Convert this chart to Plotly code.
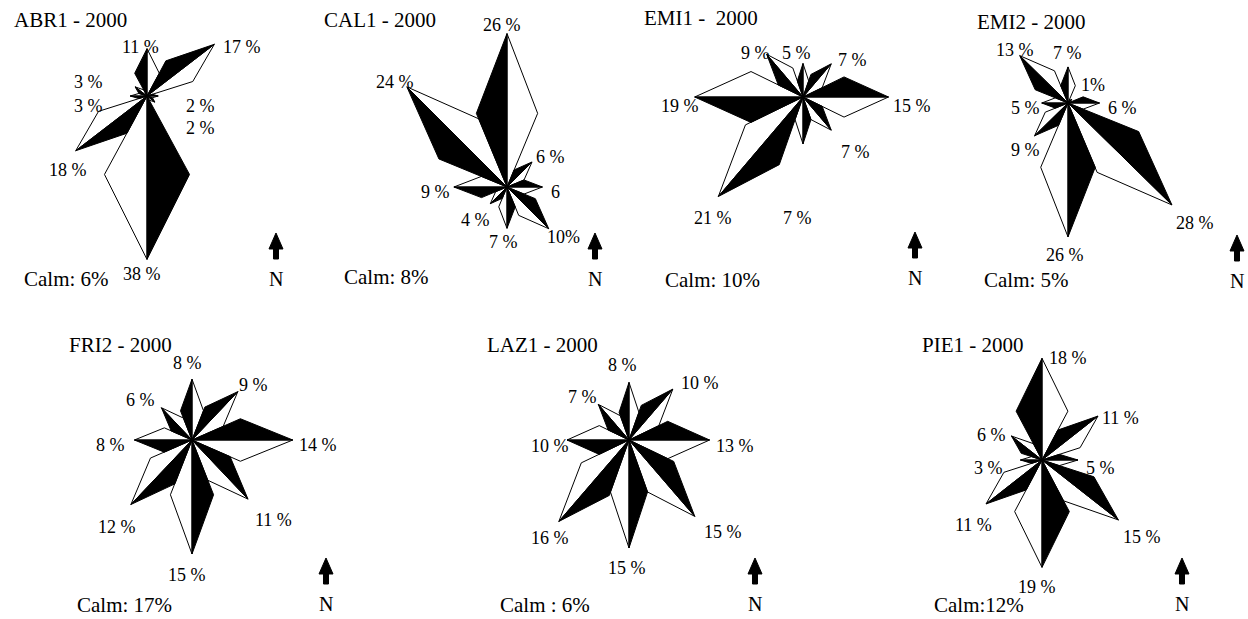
import math
import plotly.graph_objects as go

W, H = 1248, 619

# ---------------- data ----------------
directions = [0, 45, 90, 135, 180, 225, 270, 315]  # N, NE, E, SE, S, SW, W, NW
stations = ["ABR1 - 2000", "CAL1 - 2000", "EMI1 -  2000", "EMI2 - 2000",
            "FRI2 - 2000", "LAZ1 - 2000", "PIE1 - 2000"]
abr1 = [11, 17, 2, 2, 38, 18, 3, 3]
cal1 = [26, 6, 6, 10, 7, 4, 9, 24]
emi1 = [5, 7, 15, 7, 7, 21, 19, 9]
emi2 = [7, 1, 6, 28, 26, 9, 5, 13]
fri2 = [8, 9, 14, 11, 15, 12, 8, 6]
laz1 = [8, 10, 13, 15, 15, 16, 10, 7]
pie1 = [18, 11, 5, 15, 19, 11, 3, 6]
values = [abr1, cal1, emi1, emi2, fri2, laz1, pie1]
calm_labels = ["Calm: 6%", "Calm: 8%", "Calm: 10%", "Calm: 5%",
               "Calm: 17%", "Calm : 6%", "Calm:12%"]
pct_labels = [
    ["11 %", "17 %", "2 %", "2 %", "38 %", "18 %", "3 %", "3 %"],
    ["26 %", "6 %", "6", "10%", "7 %", "4 %", "9 %", "24 %"],
    ["5 %", "7 %", "15 %", "7 %", "7 %", "21 %", "19 %", "9 %"],
    ["7 %", "1%", "6 %", "28 %", "26 %", "9 %", "5 %", "13 %"],
    ["8 %", "9 %", "14 %", "11 %", "15 %", "12 %", "8 %", "6 %"],
    ["8 %", "10 %", "13 %", "15 %", "15 %", "16 %", "10 %", "7 %"],
    ["18 %", "11 %", "5 %", "15 %", "19 %", "11 %", "3 %", "6 %"],
]

# ---------------- layout (pixel positions / scales) ----------------
centres = [(147, 96), (507, 187), (803, 97), (1068, 103),
           (192, 440), (629, 440), (1042, 460)]
scales = [(5.6, 4.3), (5.9, 5.9), (5.7, 6.7), (5.25, 5.15),
          (7.2, 7.6), (6.2, 7.2), (7.2, 5.65)]
title_pos = [(12, 20), (322, 20), (642, 18), (975, 22),
             (67, 345), (485, 345), (920, 345)]
calm_pos = [(22, 279), (342, 277), (663, 280), (982, 280),
            (75, 605), (498, 605), (932, 605)]
north_pos = [(276, 233), (595, 233), (915, 232), (1237, 235),
             (326, 558), (755, 558), (1182, 558)]
label_pos = [
    [(140, 47), (242, 47), (200, 106), (200, 128), (142, 274), (68, 170), (88, 106), (88, 82)],
    [(502, 25), (550, 157), (555, 192), (563, 237), (503, 242), (475, 220), (435, 192), (395, 82)],
    [(797, 53), (852, 60), (912, 106), (855, 152), (798, 218), (713, 218), (680, 106), (755, 53)],
    [(1067, 53), (1093, 85), (1122, 108), (1195, 223), (1065, 255), (1025, 150), (1025, 108), (1015, 50)],
    [(187, 363), (253, 385), (318, 445), (273, 520), (187, 575), (117, 527), (110, 445), (140, 400)],
    [(622, 365), (700, 383), (735, 446), (723, 532), (627, 568), (550, 538), (550, 446), (582, 397)],
    [(1068, 358), (1120, 418), (1100, 468), (1142, 537), (1037, 587), (973, 525), (988, 468), (992, 435)],
]

SIDE_R = 0.52     # radius of kite side vertex (fraction of spike length)
SIDE_A = 22.6     # angular offset of kite side vertex (deg)
FONT = "Liberation Serif, Times New Roman, serif"
FS_BIG = 21
FS_PCT = 18


def px(x):
    return x / W


def py(y):
    return 1 - y / H


def pol(r, ang):
    a = math.radians(ang)
    return r * math.sin(a), r * math.cos(a)


fig = go.Figure()
annotations = []
shapes = []

for i, vals in enumerate(values):
    ax_id = "" if i == 0 else str(i + 1)
    cx, cy = centres[i]
    sx, sy = scales[i]
    x0, x1 = max(0, cx - 180), min(W, cx + 180)
    y0, y1 = max(0, cy - 180), min(H, cy + 180)
    fig.layout["xaxis" + ax_id] = dict(
        domain=[px(x0), px(x1)], range=[(x0 - cx) / sx, (x1 - cx) / sx],
        visible=False, fixedrange=True, anchor="y" + ax_id)
    fig.layout["yaxis" + ax_id] = dict(
        domain=[py(y1), py(y0)], range=[(cy - y1) / sy, (cy - y0) / sy],
        visible=False, fixedrange=True, anchor="x" + ax_id)

    bx, by, wx, wy = [], [], [], []
    for d, v in zip(directions, vals):
        tx, ty = pol(v, d)
        lx, ly = pol(v * SIDE_R, d - SIDE_A)
        rx, ry = pol(v * SIDE_R, d + SIDE_A)
        bx += [0, lx, tx, 0, None]
        by += [0, ly, ty, 0, None]
        wx += [0, rx, tx, 0, None]
        wy += [0, ry, ty, 0, None]
    fig.add_trace(go.Scatter(x=wx, y=wy, mode="lines", fill="toself",
                             fillcolor="white", line=dict(color="black", width=1),
                             hoverinfo="skip", showlegend=False,
                             xaxis="x" + ax_id, yaxis="y" + ax_id))
    fig.add_trace(go.Scatter(x=bx, y=by, mode="lines", fill="toself",
                             fillcolor="black", line=dict(color="black", width=1),
                             hoverinfo="skip", showlegend=False,
                             xaxis="x" + ax_id, yaxis="y" + ax_id))

    tx, ty = title_pos[i]
    annotations.append(dict(text=stations[i], x=px(tx), y=py(ty), xref="paper", yref="paper",
                            xanchor="left", yanchor="middle", showarrow=False,
                            font=dict(family=FONT, size=FS_BIG, color="black")))
    cxp, cyp = calm_pos[i]
    annotations.append(dict(text=calm_labels[i], x=px(cxp), y=py(cyp), xref="paper", yref="paper",
                            xanchor="left", yanchor="middle", showarrow=False,
                            font=dict(family=FONT, size=FS_BIG, color="black")))
    for lab, (lxp, lyp) in zip(pct_labels[i], label_pos[i]):
        annotations.append(dict(text=lab, x=px(lxp), y=py(lyp), xref="paper", yref="paper",
                                xanchor="center", yanchor="middle", showarrow=False,
                                font=dict(family=FONT, size=FS_PCT, color="black")))
    nx, ny = north_pos[i]
    pts = [(0, 0), (-7, 16), (-2.5, 16), (-2.5, 26), (2.5, 26), (2.5, 16), (7, 16)]
    path = "M " + " L ".join(f"{px(nx + a):.5f},{py(ny + b):.5f}" for a, b in pts) + " Z"
    shapes.append(dict(type="path", path=path, xref="paper", yref="paper",
                       fillcolor="black", line=dict(color="black", width=1)))
    annotations.append(dict(text="N", x=px(nx), y=py(ny + 46), xref="paper", yref="paper",
                            xanchor="center", yanchor="middle", showarrow=False,
                            font=dict(family=FONT, size=FS_BIG - 1, color="black")))

fig.update_layout(width=W, height=H, margin=dict(l=0, r=0, t=0, b=0),
                  paper_bgcolor="white", plot_bgcolor="rgba(0,0,0,0)",
                  annotations=annotations, shapes=shapes, showlegend=False)

fig.write_html("out.html", config={"displayModeBar": False},
               post_script="document.body.style.margin='0';document.body.style.overflow='hidden';")
